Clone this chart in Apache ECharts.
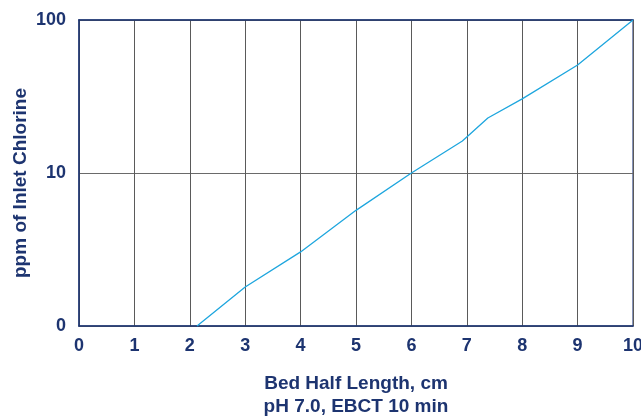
<!DOCTYPE html>
<html>
<head>
<meta charset="utf-8">
<script src="https://cdn.jsdelivr.net/npm/echarts@6/dist/echarts.min.js"></script>
<style>
  html, body { margin: 0; padding: 0; background: #fff; }
  #main { width: 641px; height: 416px; }
</style>
</head>
<body>
<div id="main"></div>
<script>
var NAVY = '#1d3470';
var bedLength = [2.13, 3, 4, 5, 6, 6.92, 7.38, 8, 9, 10];
var chlorine = [1, 1.8, 3.05, 5.7, 10, 16.2, 22.9, 30.5, 50.8, 100];
var xTicks = [0, 10];
var yTicks = [1, 100];

var chart = echarts.init(document.getElementById('main'));
var points = [];
for (var i = 0; i < bedLength.length; i++) {
  points.push([bedLength[i], chlorine[i]]);
}

var labelFont = {
  color: NAVY,
  fontFamily: 'Liberation Sans, Arial, sans-serif',
  fontWeight: 'bold',
  fontSize: 18
};
var nameFont = Object.assign({}, labelFont, { fontSize: 19 });

option = {
  animation: false,
  grid: {
    left: 79, right: 8, top: 20, bottom: 90,
    outerBoundsMode: 'none',
    containLabel: false,
    show: true,
    borderColor: '#5f70a2',
    borderWidth: 1.5
  },
  xAxis: [{
    type: 'value',
    min: xTicks[0],
    max: xTicks[1],
    interval: 1,
    name: 'Bed Half Length, cm\npH 7.0, EBCT 10 min',
    nameLocation: 'middle',
    nameGap: 46,
    nameMoveOverlap: false,
    nameTextStyle: Object.assign({}, nameFont, { lineHeight: 23 }),
    axisLine: { lineStyle: { color: NAVY, width: 1.5 } },
    axisTick: { show: false },
    axisLabel: Object.assign({ margin: 11 }, labelFont),
    splitLine: { show: true, lineStyle: { color: '#5a5a5a', width: 1 } }
  }, {
    type: 'value',
    position: 'top',
    min: xTicks[0],
    max: xTicks[1],
    axisLine: { show: true, lineStyle: { color: NAVY, width: 1.5 } },
    axisTick: { show: false },
    axisLabel: { show: false },
    splitLine: { show: false }
  }],
  yAxis: {
    type: 'log',
    logBase: 10,
    min: yTicks[0],
    max: yTicks[1],
    name: 'ppm of Inlet Chlorine',
    nameLocation: 'middle',
    nameGap: 49,
    nameMoveOverlap: false,
    nameTextStyle: Object.assign({ padding: [0, 20, 0, 0] }, nameFont),
    axisLine: { show: true, lineStyle: { color: NAVY, width: 1.5 } },
    axisTick: { show: false },
    axisLabel: Object.assign({
      margin: 13,
      formatter: function (v) { return v === 1 ? '0' : String(v); }
    }, labelFont),
    splitLine: { show: true, lineStyle: { color: '#6a6a6a', width: 1 } }
  },
  series: [{
    type: 'line',
    data: points,
    showSymbol: false,
    lineStyle: { color: '#1ea6de', width: 1.3 }
  }]
};
chart.setOption(option);
</script>
</body>
</html>
